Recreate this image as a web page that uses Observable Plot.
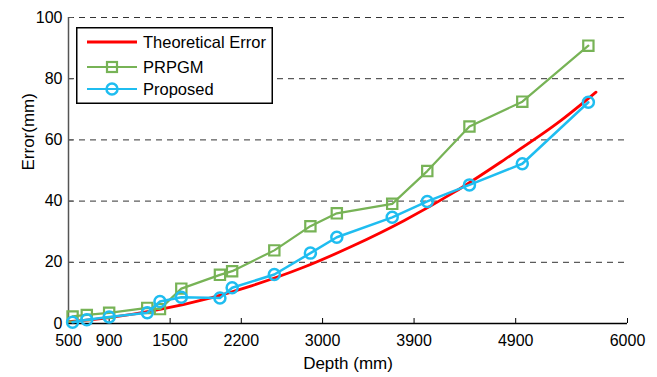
<!DOCTYPE html>
<html>
<head>
<meta charset="utf-8">
<script src="https://cdn.jsdelivr.net/npm/d3@7"></script>
<script src="https://cdn.jsdelivr.net/npm/@observablehq/plot@0.6"></script>
<style>
  html, body { margin: 0; padding: 0; background: #fff; }
  #wrap { position: relative; width: 657px; height: 377px; font-family: "Liberation Sans", Arial, sans-serif; }
  #legend { position: absolute; left: 76px; top: 27px; }
</style>
</head>
<body>
<div id="wrap"></div>
<script>
// Data
const depths = [540, 680, 900, 1275, 1400, 1610, 1990, 2110, 2525, 2880, 3140, 3685, 4030, 4445, 4965, 5615];
const prpgm = [2.3, 2.8, 3.5, 5.1, 4.7, 11.4, 15.9, 17.1, 23.9, 31.8, 36.0, 39.1, 49.8, 64.4, 72.5, 90.8];
const proposed = [0.4, 1.2, 2.1, 3.5, 7.2, 8.6, 8.3, 11.7, 16.0, 23.0, 28.2, 34.7, 39.9, 45.3, 52.2, 72.3];
const theoDepths = [500, 900, 1400, 1900, 2300, 2800, 3300, 3800, 4300, 4800, 5300, 5690];
const theoretical = [0.6, 1.9, 4.6, 8.4, 12.3, 18.2, 25.4, 33.6, 43.0, 53.8, 65.2, 75.6];
const xTicks = [500, 900, 1500, 2200, 3000, 3900, 4900, 6000];
const yTicks = [0, 20, 40, 60, 80, 100];
const gridLines = [20, 40, 60, 80, 100];
const seriesNames = ["Theoretical Error", "PRPGM", "Proposed"];
const colors = {"Theoretical Error": "#ff0000", "PRPGM": "#77b356", "Proposed": "#1fbdf0"};

const theo = theoDepths.map((d, i) => ({depth: d, err: theoretical[i]}));
const prp = depths.map((d, i) => ({depth: d, err: prpgm[i]}));
const pro = depths.map((d, i) => ({depth: d, err: proposed[i]}));

const chart = Plot.plot({
  width: 657,
  height: 377,
  marginLeft: 68,
  marginRight: 30,
  marginTop: 17,
  marginBottom: 54,
  style: {fontFamily: "'Liberation Sans', Arial, sans-serif", fontSize: "16px", color: "#000", background: "#fff"},
  x: {domain: [500, 6000]},
  y: {domain: [0, 100]},
  marks: [
    Plot.ruleY(gridLines, {stroke: "#333", strokeWidth: 1, strokeDasharray: "6,5"}),
    Plot.axisX({ticks: xTicks, tickSize: -5, tickPadding: 16, tickFormat: d => String(d), label: null, stroke: "#000", fontSize: 16}),
    Plot.axisY({ticks: yTicks, tickSize: -5, tickPadding: 11, tickFormat: d => String(d), label: null, stroke: "#555", fontSize: 16}),
    Plot.ruleX([500], {stroke: "#555", strokeWidth: 1.5}),
    Plot.ruleY([0], {stroke: "#000", strokeWidth: 1.5}),
    Plot.line(theo, {x: "depth", y: "err", stroke: colors["Theoretical Error"], strokeWidth: 2.8, curve: "catmull-rom"}),
    Plot.line(prp, {x: "depth", y: "err", stroke: colors["PRPGM"], strokeWidth: 2.2}),
    Plot.dot(prp, {x: "depth", y: "err", symbol: "square", r: 5.8, stroke: colors["PRPGM"], strokeWidth: 2.2, fill: "none"}),
    Plot.line(pro, {x: "depth", y: "err", stroke: colors["Proposed"], strokeWidth: 2.5}),
    Plot.dot(pro, {x: "depth", y: "err", r: 5.5, stroke: colors["Proposed"], strokeWidth: 2.5, fill: "none"}),
    Plot.text(["Depth (mm)"], {frameAnchor: "bottom", dy: 45, fontSize: 17, fill: "#000"}),
    Plot.text(["Error(mm)"], {frameAnchor: "left", rotate: -90, dx: -40, fontSize: 17, fill: "#000"})
  ]
});
document.getElementById("wrap").appendChild(chart);

// Legend
const lw = 197, lh = 77;
const leg = d3.select("#wrap").append("svg").attr("id", "legend").attr("width", lw).attr("height", lh);
leg.append("rect").attr("x", 0.75).attr("y", 0.75).attr("width", lw - 1.5).attr("height", lh - 1.5)
  .attr("fill", "#fff").attr("stroke", "#000").attr("stroke-width", 1.5);
const rowsY = [15, 40, 62];
seriesNames.forEach((name, i) => {
  const g = leg.append("g").attr("transform", `translate(0,${rowsY[i]})`);
  g.append("line").attr("x1", 11).attr("x2", 61).attr("y1", 0).attr("y2", 0)
    .attr("stroke", colors[name]).attr("stroke-width", name === "Theoretical Error" ? 2.8 : 2.2);
  if (name === "PRPGM") {
    g.append("rect").attr("x", 31).attr("y", -5).attr("width", 10).attr("height", 10)
      .attr("fill", "none").attr("stroke", colors[name]).attr("stroke-width", 2.2);
  } else if (name === "Proposed") {
    g.append("circle").attr("cx", 36).attr("cy", 0).attr("r", 5.5)
      .attr("fill", "none").attr("stroke", colors[name]).attr("stroke-width", 2.5);
  }
  g.append("text").attr("x", 67).attr("y", 0).attr("dy", "0.35em")
    .attr("font-family", "'Liberation Sans', Arial, sans-serif").attr("font-size", 16.5)
    .attr("fill", "#000").text(name);
});
</script>
</body>
</html>
